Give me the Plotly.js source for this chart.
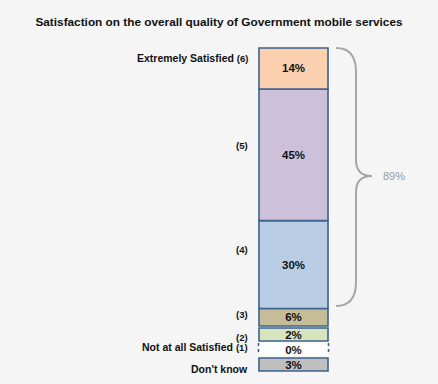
<!DOCTYPE html>
<html>
<head>
<meta charset="utf-8">
<script src="https://cdn.plot.ly/plotly-3.0.1.min.js"></script>
<style>html,body{margin:0;padding:0;background:#f5f5f5;}#chart{width:438px;height:384px;}</style>
</head>
<body>
<div id="chart"></div>
<script>
// ---- data ----
const categories = ['Extremely Satisfied (6)', '(5)', '(4)', '(3)', '(2)', 'Not at all Satisfied (1)', "Don't know"];
const values = [14, 45, 30, 6, 2, 0, 3];
const stackedCount = 4;          // first four categories form the stacked column
const netLabel = '89%';          // 14 + 45 + 30
const titleText = 'Satisfaction on the overall quality of Government mobile services';

// ---- layout helpers (pixel -> paper) ----
const W = 438, H = 384;
const px = x => x / W;
const py = y => 1 - y / H;

const colors = ['#fad0ae', '#ccc0da', '#b9cde5', '#c4bd97', '#d7e4bd', '#ffffff', '#bfbfbf'];
const edge = '#3d6290';

// stack scale: stack of first four occupies pixel 48 -> 326
let stackTotal = 0;
for (let i = 0; i < stackedCount; i++) stackTotal += values[i];
const k = (326 - 48) / stackTotal;           // px per percentage unit
const yMin = -(H - 326) / k, yMax = 326 / k;

// stacked column (bottom to top)
const sx = [], sy = [], sb = [], st = [], sc = [];
let acc = 0;
for (let i = stackedCount - 1; i >= 0; i--) {
  sx.push(293.5); sy.push(values[i]); sb.push(acc); st.push(values[i] + '%'); sc.push(colors[i]);
  acc += values[i];
}
const boxH = 13 / k, gap0 = 2 / k, step = 15 / k;
const lx = [], ly = [], lb = [], lt = [], lc = [], lw = [];
for (let i = stackedCount, j = 0; i < values.length; i++, j++) {
  lx.push(293.5); ly.push(boxH); lb.push(-gap0 - boxH - j * step);
  lt.push(values[i] + '%'); lc.push(colors[i]); lw.push(values[i] === 0 ? 0 : 1.6);
}

const textFont = {family: 'Liberation Sans, Arial, sans-serif', size: 11.5, color: '#111', weight: 'bold'};
const traces = [
  {type: 'bar', x: sx, y: sy, base: sb, width: 69, text: st, textposition: 'inside',
   insidetextanchor: 'middle', constraintext: 'none', textfont: textFont, hoverinfo: 'skip',
   marker: {color: sc, line: {color: edge, width: 1.6}}},
  {type: 'bar', x: lx, y: ly, base: lb, width: 69, text: lt, textposition: 'inside',
   insidetextanchor: 'middle', constraintext: 'none', textfont: textFont, hoverinfo: 'skip',
   marker: {color: lc, line: {color: edge, width: lw}}}
];

const labelY = [58, 146, 249, 314, 337, 347, 369];
const labelFont = {family: 'Liberation Sans, Arial, sans-serif', size: 10.5, color: '#111', weight: 'bold'};
const annotations = categories.map((c, i) => ({
  text: c.replace(/\((\d)\)/, '<span style="font-size:9.5px">($1)</span>'),
  xref: 'paper', yref: 'paper', x: px(250), y: py(labelY[i]),
  xanchor: 'right', yanchor: 'middle', showarrow: false, font: labelFont
}));
annotations.push({text: netLabel, xref: 'paper', yref: 'paper', x: px(381), y: py(176),
  xanchor: 'left', yanchor: 'middle', showarrow: false,
  font: {family: 'Liberation Sans, Arial, sans-serif', size: 11, color: '#9a9a9a'}});

// brace path from pixel coords
const P = (x, y) => px(x).toFixed(5) + ',' + py(y).toFixed(5);
const brace = 'M' + P(336, 48) + ' Q' + P(356, 48) + ' ' + P(356, 72) +
  ' L' + P(356, 160) + ' Q' + P(356, 176) + ' ' + P(372, 176) +
  ' Q' + P(356, 176) + ' ' + P(356, 192) +
  ' L' + P(356, 282) + ' Q' + P(356, 306) + ' ' + P(336, 306);

const shapes = [
  {type: 'path', xref: 'paper', yref: 'paper', path: brace, line: {color: '#a6a6a6', width: 2}},
  {type: 'line', xref: 'paper', yref: 'paper', x0: px(258.5), x1: px(258.5), y0: py(343), y1: py(355), line: {color: edge, width: 1.6, dash: 'dot'}},
  {type: 'line', xref: 'paper', yref: 'paper', x0: px(328.5), x1: px(328.5), y0: py(343), y1: py(355), line: {color: edge, width: 1.6, dash: 'dot'}}
];

const layout = {
  width: W, height: H, margin: {l: 0, r: 0, t: 0, b: 0},
  paper_bgcolor: '#f5f5f5', plot_bgcolor: 'rgba(0,0,0,0)',
  title: {text: '<b>' + titleText + '</b>', x: 0.5, xanchor: 'center', y: py(22), yanchor: 'middle',
          font: {family: 'Liberation Sans, Arial, sans-serif', size: 11.8, color: '#111'}},
  xaxis: {range: [0, W], visible: false, fixedrange: true},
  yaxis: {range: [yMin, yMax], visible: false, fixedrange: true},
  barmode: 'overlay', showlegend: false,
  annotations: annotations, shapes: shapes
};

Plotly.newPlot('chart', traces, layout, {displayModeBar: false, staticPlot: true});
</script>
</body>
</html>
